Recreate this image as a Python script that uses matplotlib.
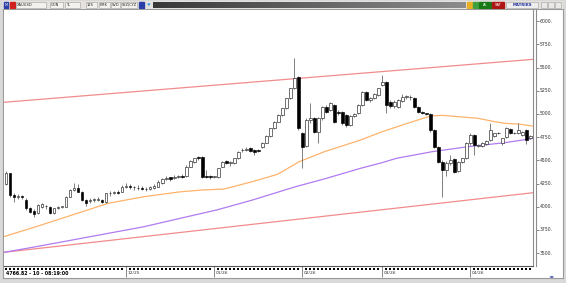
import matplotlib
matplotlib.use("Agg")
import matplotlib.pyplot as plt
import numpy as np
from matplotlib.patches import Rectangle

# daily candles, XAUUSD
opens = [4241, 4358, 4125, 4100, 4114, 4071, 3981, 3956, 3934, 3999,
         4006, 3999, 3934, 3985, 3995, 3999, 4107, 4179, 4197, 4161,
         4071, 4066, 4072, 4075, 4071, 4053, 4145, 4150, 4161, 4161,
         4215, 4227, 4209, 4200, 4198, 4195, 4191, 4202, 4216, 4259,
         4300, 4315, 4310, 4325, 4328, 4331, 4432, 4486, 4540, 4540,
         4331, 4327, 4322, 4317, 4432, 4497, 4474, 4475, 4522, 4608,
         4616, 4630, 4612, 4611, 4640, 4692, 4762, 4845, 4917, 4989,
         5060, 5168, 5276, 5402, 4791, 4650, 4935, 4953, 4809, 4953,
         5078, 5042, 5096, 5024, 5024, 4989, 4881, 4975, 5006, 5096,
         5240, 5150, 5170, 5204, 5312, 5348, 5130, 5085, 5080, 5135,
         5185, 5185, 5169, 5079, 5025, 5005, 5000, 4827, 4647, 4486,
         4396, 4468, 4511, 4380, 4485, 4522, 4684, 4773, 4660, 4650,
         4680, 4719, 4760, 4800, 4684, 4755, 4835, 4790, 4790, 4770,
         4827, 4737]
highs = [4380, 4362, 4150, 4140, 4130, 4090, 3995, 3975, 4030, 4035,
         4020, 4010, 3990, 4005, 4010, 4115, 4190, 4251, 4248, 4170,
         4080, 4090, 4095, 4100, 4080, 4150, 4165, 4170, 4175, 4230,
         4260, 4240, 4225, 4235, 4220, 4215, 4222, 4240, 4285, 4310,
         4330, 4325, 4340, 4345, 4350, 4445, 4500, 4525, 4552, 4548,
         4395, 4345, 4335, 4420, 4495, 4505, 4490, 4530, 4600, 4635,
         4640, 4645, 4620, 4622, 4700, 4770, 4850, 4925, 4995, 5070,
         5175, 5285, 5600, 5410, 4810, 4960, 5114, 4970, 4970, 5090,
         5095, 5125, 5105, 5040, 5035, 4995, 4990, 5010, 5105, 5250,
         5250, 5180, 5225, 5285, 5420, 5360, 5150, 5150, 5165, 5215,
         5205, 5200, 5185, 5090, 5035, 5015, 5010, 4840, 4660, 4500,
         4490, 4560, 4520, 4495, 4530, 4700, 4790, 4780, 4680, 4700,
         4715, 4900, 4800, 4810, 4745, 4860, 4845, 4810, 4900, 4820,
         4835, 4775]
lows = [4235, 4105, 4053, 4085, 4080, 3965, 3935, 3891, 3925, 3990,
        3975, 3925, 3925, 3975, 3985, 3995, 4100, 4170, 4155, 4060,
        4010, 4040, 4055, 4060, 4040, 4045, 4120, 4140, 4135, 4155,
        4200, 4190, 4185, 4180, 4175, 4170, 4185, 4195, 4210, 4250,
        4285, 4280, 4295, 4305, 4310, 4325, 4425, 4470, 4505, 4305,
        4310, 4300, 4310, 4310, 4425, 4460, 4440, 4465, 4515, 4590,
        4600, 4595, 4557, 4585, 4630, 4685, 4755, 4835, 4910, 4980,
        5050, 5160, 5265, 4830, 4413, 4640, 4900, 4790, 4683, 4940,
        5010, 5030, 4900, 4990, 4880, 4860, 4870, 4965, 4995, 5085,
        5140, 5130, 5160, 5195, 5300, 5006, 5060, 5070, 5060, 5125,
        5160, 5150, 5070, 5010, 4995, 4985, 4810, 4630, 4470, 4108,
        4330, 4450, 4360, 4370, 4470, 4510, 4670, 4560, 4640, 4640,
        4670, 4710, 4750, 4780, 4670, 4745, 4780, 4780, 4785, 4765,
        4680, 4730]
closes = [4358, 4125, 4100, 4114, 4107, 3981, 3945, 3920, 4017, 4024,
          4003, 3934, 3981, 3999, 4002, 4107, 4179, 4197, 4162, 4071,
          4035, 4072, 4075, 4080, 4053, 4143, 4150, 4160, 4150, 4215,
          4220, 4209, 4208, 4198, 4195, 4190, 4209, 4227, 4270, 4295,
          4306, 4295, 4317, 4331, 4324, 4432, 4496, 4522, 4530, 4317,
          4317, 4320, 4324, 4414, 4486, 4475, 4477, 4522, 4594, 4612,
          4619, 4604, 4594, 4600, 4690, 4762, 4845, 4917, 4989, 5060,
          5168, 5276, 5384, 4845, 4647, 4935, 4960, 4809, 4953, 5078,
          5024, 5114, 4917, 5006, 4899, 4881, 4975, 5000, 5096, 5240,
          5150, 5170, 5215, 5276, 5348, 5096, 5085, 5130, 5150, 5187,
          5190, 5178, 5079, 5025, 5007, 5000, 4827, 4647, 4486, 4396,
          4475, 4504, 4378, 4480, 4520, 4684, 4773, 4666, 4665, 4690,
          4705, 4827, 4790, 4790, 4737, 4845, 4791, 4795, 4830, 4810,
          4719, 4767]

month_labels = ["12/25", "01/26", "02/26", "03/26", "04/26"]
month_index = [30, 52, 74, 94, 116]
price_ticks = [6000, 5750, 5500, 5250, 5000, 4750, 4500, 4250, 4000, 3750, 3500]

# moving averages (candle index, price)
ma_fast_x = [-0.6, 7.5, 16.5, 25.5, 34.5, 43.5, 49, 54.4, 61.6, 67.9, 73.3,
             79.6, 88.6, 94, 100.3, 106.2, 109, 113, 118, 121.8, 124.6, 128, 131.5]
ma_fast_y = [3676, 3784, 3910, 4036, 4108, 4160, 4180, 4190, 4270, 4350, 4486,
             4594, 4719, 4809, 4899, 4980, 4985, 4971, 4953, 4920, 4899, 4892, 4871]
ma_slow_x = [-0.6, 7.5, 16.5, 25.5, 34.5, 43.5, 52.6, 61.6, 67, 72.4, 79.6,
             88.6, 94, 97.6, 106.6, 115.6, 124.6, 131.5]
ma_slow_y = [3507, 3568, 3640, 3712, 3784, 3874, 3964, 4072, 4144, 4216, 4300,
             4414, 4475, 4522, 4594, 4648, 4690, 4735]
channel_x = [-0.6, 131.8]
channel_upper = [5126, 5590]
channel_lower = [3507, 4151]

symbol = "XAUUSD"
last_info = "4766.82 - 10 - 08:19:00"

W, H = 566, 283
fig = plt.figure(figsize=(W / 100, H / 100), dpi=100, facecolor="#d9d9d9")


def box(x0, y0, x1, y1):
    return [x0 / W, 1 - y1 / H, (x1 - x0) / W, (y1 - y0) / H]


# white panel behind chart, price scale and date strip
bg = fig.add_axes(box(3, 9, 563, 278))
bg.set_xticks([])
bg.set_yticks([])
bg.set_facecolor("white")
for s in bg.spines.values():
    s.set_color("#9a9a9a")
    s.set_linewidth(0.8)

ylo, yhi = 3360, 6122
xlo, xhi = -0.5, 131.7

ax = fig.add_axes(box(4, 10, 533, 266))
ax.set_xlim(xlo, xhi)
ax.set_ylim(ylo, yhi)
ax.set_facecolor("white")
ax.set_xticks([])
ax.set_yticks([])
for s in ax.spines.values():
    s.set_visible(False)
ax.spines["right"].set_visible(True)
ax.spines["right"].set_color("#8c8c8c")
ax.spines["bottom"].set_visible(True)
ax.spines["bottom"].set_color("#555555")
ax.spines["bottom"].set_linewidth(0.8)

# channel and averages
ax.plot(channel_x, channel_upper, color="#f28b8b", lw=0.9)
ax.plot(channel_x, channel_lower, color="#f28b8b", lw=0.9)
ax.plot(ma_fast_x, ma_fast_y, color="#ffb36b", lw=0.9)
ax.plot(ma_slow_x, ma_slow_y, color="#b07cf0", lw=0.9)

# candles
idx = np.arange(len(closes))
o = np.array(opens)
c = np.array(closes)
ax.vlines(idx, lows, highs, color="#6a6a6a", lw=0.6, zorder=3)
bottoms = np.minimum(o, c)
heights = np.maximum(np.abs(c - o), 6)
up = c >= o
ax.bar(idx[up], heights[up], bottom=bottoms[up], width=0.72,
       color="white", edgecolor="#222222", linewidth=0.45, zorder=4)
ax.bar(idx[~up], heights[~up], bottom=bottoms[~up], width=0.72,
       color="black", edgecolor="black", linewidth=0.45, zorder=4)

# price scale
axp = fig.add_axes(box(536, 10, 562, 266))
axp.set_ylim(ylo, yhi)
axp.set_xlim(0, 1)
axp.patch.set_alpha(0)
for s in axp.spines.values():
    s.set_visible(False)
axp.spines["left"].set_visible(True)
axp.spines["left"].set_color("#8c8c8c")
axp.set_xticks([])
axp.set_yticks(price_ticks)
axp.tick_params(axis="y", direction="in", length=2.5, width=0.5,
                color="#555555", labelleft=False)
for v in price_ticks:
    axp.text(0.14, v, f"{v}.", transform=axp.get_yaxis_transform(),
             fontsize=3.3, va="center", ha="left", color="#333333")

# date strip
axx = fig.add_axes(box(4, 266, 533, 278))
axx.set_xlim(xlo, xhi)
axx.set_ylim(1, 0)
axx.axis("off")
tick_idx = [i for i in idx if i not in month_index]
axx.scatter(tick_idx, [0.22] * len(tick_idx), marker="s", s=0.9,
            color="black", linewidths=0)
axx.vlines(month_index, 0.0, 0.9, color="#555555", lw=0.5)
for i, lab in zip(month_index, month_labels):
    axx.text(i + 0.4, 0.62, lab, fontsize=3.2, va="center", ha="left",
             color="#333333")
axx.text(0, 0.62, last_info, fontsize=3.4, va="center", ha="left",
         fontweight="bold", color="black")

# toolbar
axt = fig.add_axes(box(3, 1, 563, 9))
axt.axis("off")
axt.add_patch(Rectangle((3, 1), 560, 8, color="#e6e3de", zorder=0))
grad = np.linspace(0.22, 0.55, 200).reshape(1, -1)
axt.imshow(grad, extent=(153, 466, 8, 2), cmap="gray", aspect="auto",
           vmin=0, vmax=1, zorder=1)
axt.set_xlim(3, 563)
axt.set_ylim(9, 1)
axt.add_patch(Rectangle((3.5, 2), 4.5, 5.5, color="#2b3fa8"))
axt.text(5.7, 4.8, "M", fontsize=2.5, color="white", ha="center", va="center")
axt.add_patch(Rectangle((10, 2), 5, 5.5, color="#d02020"))
items = [(16, 46, symbol), (50, 63, "GUN"), (65, 80, "TL"), (86, 97, "12S"),
         (99, 110, "KMK"), (111, 120, "SVD"), (121, 137, "SYZ|CYZ")]
for x0, x1, t in items:
    axt.add_patch(Rectangle((x0, 2), x1 - x0, 5.5, facecolor="#f4f2ee",
                            edgecolor="#a0a0a0", lw=0.4))
    axt.text(x0 + 1, 4.9, t, fontsize=2.6, va="center", ha="left",
             color="#222222")
axt.add_patch(Rectangle((139, 2), 5, 5.5, color="#2b3fa8"))
axt.text(146.5, 4.9, "\u2665", fontsize=3, color="#3aa0e0", va="center")
axt.add_patch(Rectangle((467, 2), 5, 5.5, color="#e8b020"))
axt.add_patch(Rectangle((473, 2), 5, 5.5, color="#40a040"))
axt.add_patch(Rectangle((479, 2), 12, 5.5, color="#177a17"))
axt.text(485, 4.9, "AL", fontsize=2.6, color="white", ha="center", va="center")
axt.add_patch(Rectangle((492, 2), 12, 5.5, color="#b01515"))
axt.text(498, 4.9, "SAT", fontsize=2.6, color="white", ha="center", va="center")
axt.add_patch(Rectangle((506, 2), 32, 5.5, facecolor="#eeeeee",
                        edgecolor="#a0a0a0", lw=0.4))
axt.text(522, 4.9, "MATRIKS", fontsize=2.8, color="#1f2f9a", ha="center",
         va="center", fontweight="bold")
for x0 in (541, 548, 555):
    axt.add_patch(Rectangle((x0, 2), 6, 5.5, facecolor="#e8e8e8",
                            edgecolor="#a0a0a0", lw=0.4))

# bottom right controls
fig.text(549 / W, 1 - 276 / H, "\u25c4\u25ba", fontsize=3, color="#2b3fa8",
         ha="left", va="center")

fig.savefig("out.png", dpi=100, facecolor=fig.get_facecolor())
